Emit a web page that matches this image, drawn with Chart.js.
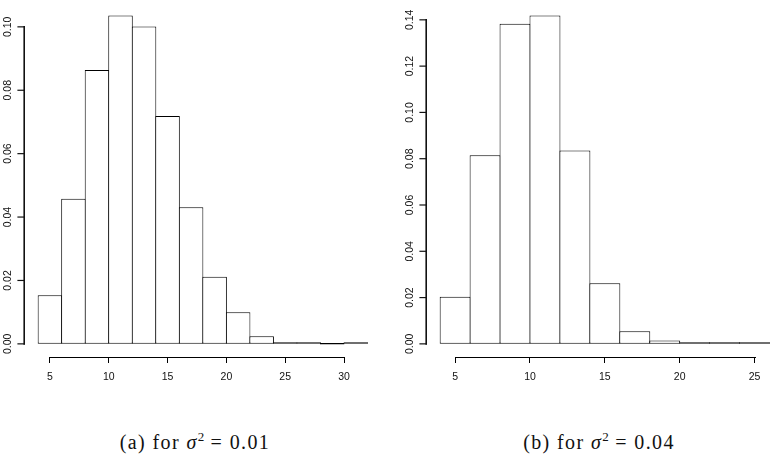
<!DOCTYPE html>
<html>
<head>
<meta charset="utf-8">
<script src="https://cdn.jsdelivr.net/npm/chart.js@4"></script>
<style>
  html, body { margin: 0; padding: 0; background: #fff; overflow: hidden; }
  body { width: 774px; height: 458px; position: relative; }
  canvas { position: absolute; top: 0; }
  #histA { left: 0; }
  #histB { left: 402px; }
  .caption {
    position: absolute; top: 432px; width: 260px; margin-left: -130px;
    text-align: center; font-family: "Liberation Serif", "Times New Roman", serif;
    font-size: 20px; line-height: 20px; letter-spacing: 1.4px; color: #111; white-space: nowrap;
  }
  .caption sup { font-size: 13px; vertical-align: 8px; line-height: 0; letter-spacing: 0; }
</style>
</head>
<body>
<canvas id="histA" width="387" height="392"></canvas>
<canvas id="histB" width="387" height="392"></canvas>
<div class="caption" style="left:195px">(a) for <i>σ</i><sup>2</sup> = 0.01</div>
<div class="caption" style="left:599px">(b) for <i>σ</i><sup>2</sup> = 0.04</div>
<script>
// histogram (a): sigma^2 = 0.01
const breaksA = [4, 6, 8, 10, 12, 14, 16, 18, 20, 22, 24, 26, 28, 30, 32];
const densityA = [0.0153, 0.0458, 0.0864, 0.1036, 0.1001, 0.0719, 0.0431, 0.0212, 0.0100, 0.0024, 0.0005, 0.0003, 0, 0.0002];
const xTicksA = [5, 10, 15, 20, 25, 30];
const yTicksA = [0, 0.02, 0.04, 0.06, 0.08, 0.10];

// histogram (b): sigma^2 = 0.04
const breaksB = [4, 6, 8, 10, 12, 14, 16, 18, 20, 22, 24, 26];
const densityB = [0.0204, 0.0815, 0.1383, 0.1419, 0.0835, 0.0262, 0.0055, 0.0014, 0.0007, 0.0004, 0.0002];
const xTicksB = [5, 10, 15, 20, 25];
const yTicksB = [0, 0.02, 0.04, 0.06, 0.08, 0.10, 0.12, 0.14];

// R style axes: the line only runs from the first to the last tick
const rAxisLine = {
  id: 'rAxisLine',
  afterDraw(chart) {
    const ctx = chart.ctx;
    const x = chart.scales.x, y = chart.scales.y;
    const xy = Math.round(x.top);
    const x0 = Math.round(x.getPixelForValue(x.ticks[0].value));
    const x1 = Math.round(x.getPixelForValue(x.ticks[x.ticks.length - 1].value));
    const yx = Math.round(y.right);
    const yPix = y.ticks.map(t => y.getPixelForValue(t.value));
    ctx.save();
    ctx.fillStyle = '#000';
    ctx.fillRect(x0, xy, x1 - x0 + 1, 1);
    ctx.strokeStyle = '#111';
    ctx.lineWidth = 1.6;
    ctx.lineCap = 'square';
    ctx.beginPath();
    ctx.moveTo(yx - 0.8, yPix[0]);
    ctx.lineTo(yx - 0.8, yPix[yPix.length - 1]);
    ctx.stroke();
    ctx.lineWidth = 1.2;
    yPix.forEach(p => {
      ctx.beginPath();
      ctx.moveTo(yx - 7, p);
      ctx.lineTo(yx - 0.8, p);
      ctx.stroke();
    });
    ctx.restore();
  }
};

function makeHist(id, breaks, density, xTicks, yTicks) {
  const points = density.map((d, i) => ({ x: (breaks[i] + breaks[i + 1]) / 2, y: d }));
  // R pads the plot region by 4% on each side
  const lo = breaks[0], hi = breaks[breaks.length - 1];
  const padX = (hi - lo) * 0.04;
  const top = Math.max(...density);
  const padY = top * 0.04;
  const binPx = 355.3 / ((hi - lo) + 2 * padX) * (breaks[1] - breaks[0]);
  const tickFont = { family: 'Liberation Sans, Arial, sans-serif', size: 10.5 };

  new Chart(document.getElementById(id), {
    type: 'bar',
    data: {
      datasets: [{
        data: points,
        backgroundColor: '#fff',
        borderColor: '#000',
        borderWidth: 1,
        borderSkipped: false,
        inflateAmount: 0,
        minBarLength: 1.5,
        barPercentage: (binPx + 1) / binPx,
        categoryPercentage: 1
      }]
    },
    options: {
      responsive: false,
      animation: false,
      layout: { padding: { top: 2.3, right: 6.3, left: 0, bottom: 0 } },
      plugins: { legend: { display: false }, tooltip: { enabled: false } },
      scales: {
        x: {
          type: 'linear',
          min: lo - padX,
          max: hi + padX,
          offset: false,
          afterBuildTicks: s => { s.ticks = xTicks.map(v => ({ value: v })); },
          afterFit: s => { s.height = 35; s.paddingLeft = 0; s.paddingRight = 0; },
          grid: { offset: false, drawOnChartArea: false, drawTicks: true, tickLength: 6, color: '#000' },
          border: { display: false },
          ticks: { font: tickFont, color: '#111', padding: 8, maxRotation: 0, callback: v => String(v) }
        },
        y: {
          min: -padY,
          max: top + padY,
          afterBuildTicks: s => { s.ticks = yTicks.map(v => ({ value: v })); },
          afterFit: s => { s.width = 25; s.paddingTop = 0; s.paddingBottom = 0; },
          grid: { display: false, tickLength: 6 },
          border: { display: false },
          ticks: { font: tickFont, color: '#111', padding: 1, minRotation: 90, maxRotation: 90, crossAlign: 'center', callback: v => v.toFixed(2) }
        }
      }
    },
    plugins: [rAxisLine]
  });
}

makeHist('histA', breaksA, densityA, xTicksA, yTicksA);
makeHist('histB', breaksB, densityB, xTicksB, yTicksB);
</script>
</body>
</html>
